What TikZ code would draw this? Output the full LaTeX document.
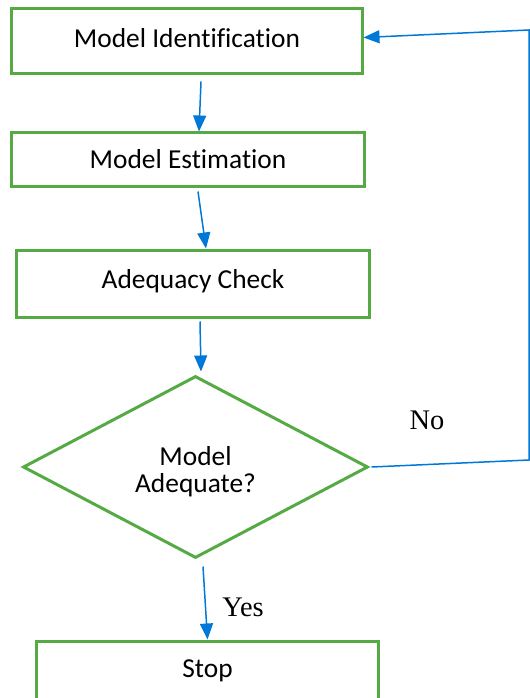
\documentclass[tikz,border=0pt]{standalone}
\usepackage{fontspec}
\setmainfont{Liberation Serif}
\newfontfamily\boxfont[Ligatures=NoCommon]{Carlito}
\usetikzlibrary{shapes.geometric,arrows.meta}
\definecolor{boxgreen}{RGB}{86,170,68}
\definecolor{arrblue}{RGB}{0,120,215}
\begin{document}
\begin{tikzpicture}[x=1bp,y=-1bp,
  box/.style={draw=boxgreen,line width=3bp,fill=white,inner sep=0pt,
    font=\boxfont\fontsize{27.5}{27.5}\selectfont,text=black,text height=18bp},
  decision/.style={draw=boxgreen,line width=3bp,fill=white,inner sep=0pt,
    font=\boxfont\fontsize{27.5}{27.5}\selectfont,text=black,diamond,align=center},
  arr/.style={draw=arrblue,line width=1.5bp,-{Triangle[length=16bp,width=13bp]}},
  lbl/.style={font=\fontsize{28.5}{30}\selectfont,text=black}]
\useasboundingbox (0,0) rectangle (530,698);
\clip (0,0) rectangle (530,698);
\node[box,minimum width=350bp,minimum height=65bp,text depth=6bp] (mi) at (187,41.5) {Model Identification};
\node[box,minimum width=352bp,minimum height=53bp,text depth=0bp] (me) at (188,159.5) {Model Estimation};
\node[box,minimum width=352bp,minimum height=67bp,text depth=8bp] (ac) at (193,283.5) {Adequacy Check};
\node[decision,minimum width=345bp,minimum height=182bp] (dia) at (195.5,467) {\rule{0pt}{28bp}Model\\Adequate?};
\node[box,minimum width=341bp,minimum height=62bp,text depth=7bp] (stop) at (207.5,672) {Stop};
\node[lbl] (no) at (427,420) {No};
\node[lbl] (yes) at (243,607) {Yes};
\coordinate (c1) at (529,460);
\coordinate (c2) at (529,30);
\draw[arr] ([xshift=14bp,yshift=-6bp]mi.south) -- ([xshift=11bp]me.north);
\draw[arr] ([xshift=10bp,yshift=-4bp]me.south) -- ([xshift=13bp]ac.north);
\draw[arr] ([xshift=7bp,yshift=-3bp]ac.south) -- ([xshift=5.5bp,yshift=3bp]dia.north);
\draw[arr] ([xshift=7.5bp,yshift=-7bp]dia.south) -- (stop.north);
\draw[arr] ([xshift=2bp]dia.east) -- (c1) -- (c2) -- ([yshift=4bp]mi.east);
\end{tikzpicture}
\end{document}
